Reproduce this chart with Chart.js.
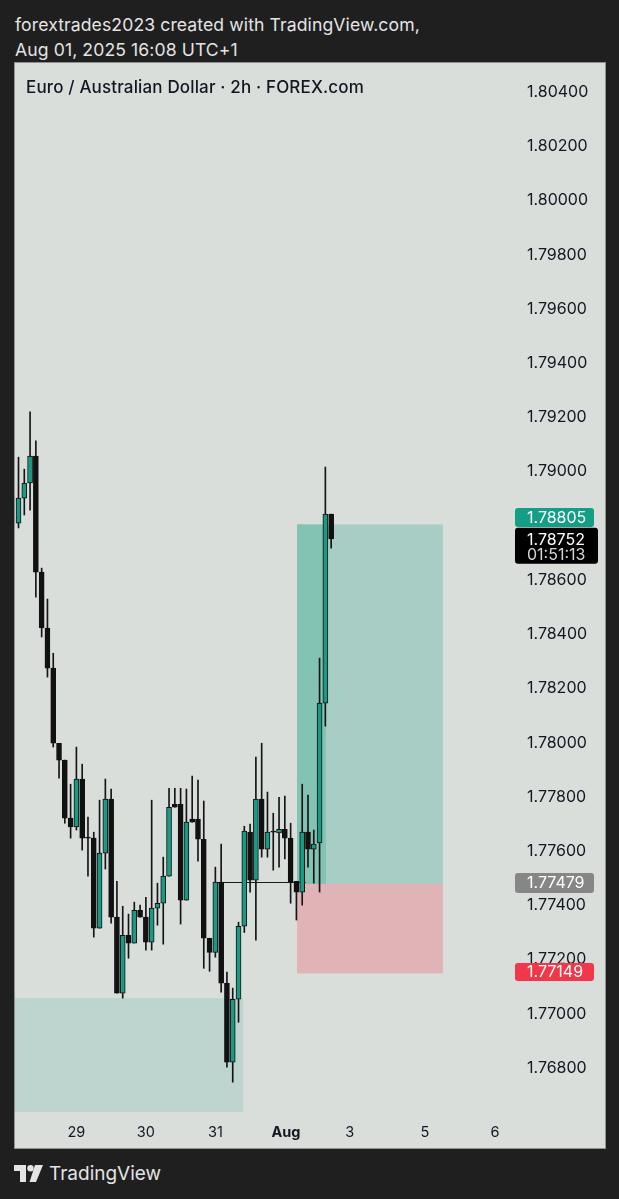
<!DOCTYPE html>
<html>
<head>
<meta charset="utf-8">
<title>EURAUD 2h</title>
<script src="https://cdn.jsdelivr.net/npm/chart.js@4.4.1/dist/chart.umd.min.js"></script>
<style>
  html, body { margin: 0; padding: 0; }
  body { width: 619px; height: 1199px; background: #1f1f1f; overflow: hidden; position: relative;
         font-family: Inter, "Noto Sans", sans-serif; }
  .head { position: absolute; left: 15px; color: #e4e4e4; font-size: 17.6px; line-height: 20px; letter-spacing: 0.1px; }
  #panel { position: absolute; left: 15px; top: 63px; width: 590px; height: 1085px; background: #d9dedb;
           box-shadow: 0 0 0 1px #8c908e; }
  #panel canvas { position: absolute; left: 0; top: 0; }
  #title { position: absolute; left: 11px; top: 14px; font-size: 17px; letter-spacing: 0.15px; font-weight: 500; color: #131722; }
  #brand { position: absolute; left: 14px; top: 1162px; height: 22px; display: flex; align-items: center; gap: 6px;
           color: #e4e4e4; font-size: 19px; }
</style>
</head>
<body>
<div class="head" style="top:15px">forextrades2023 created with TradingView.com,</div>
<div class="head" style="top:40px">Aug 01, 2025 16:08 UTC+1</div>
<div id="panel">
  <canvas id="chart" width="590" height="1085"></canvas>
  <div id="title">Euro / Australian Dollar · 2h · FOREX.com</div>
</div>
<div id="brand">
  <svg width="29" height="17" viewBox="0 0 29 17">
    <path d="M0 0H12V17H6V6H0Z" fill="#e4e4e4"/>
    <circle cx="16.5" cy="3.2" r="3.2" fill="#e4e4e4"/>
    <path d="M21 0H29L22 17H15.5Z" fill="#e4e4e4"/>
  </svg>
  <span>TradingView</span>
</div>
<script>
// 2h candles, oldest first (bar index 0 = Jul 28 ~10:00)
const opens  = [1.78810, 1.78902, 1.78958, 1.79057, 1.78629, 1.78423, 1.78275, 1.77998, 1.77936, 1.77722,
                1.77689, 1.77866, 1.77652, 1.77648, 1.77316, 1.77593, 1.77792, 1.77357, 1.77076, 1.77290,
                1.77261, 1.77382, 1.77357, 1.77264, 1.77390, 1.77408, 1.77508, 1.77773, 1.77773, 1.77419,
                1.77718, 1.77718, 1.77644, 1.77279, 1.77227, 1.77486, 1.77113, 1.76822, 1.77054, 1.77323,
                1.77670, 1.77493, 1.77792, 1.77607, 1.77674, 1.77667, 1.77681, 1.77648, 1.77489, 1.77449,
                1.77670, 1.77607, 1.77630, 1.78146, 1.78843];
const highs  = [1.79053, 1.79009, 1.79220, 1.79113, 1.78644, 1.78530, 1.78330, 1.77998, 1.77936, 1.77847,
                1.77984, 1.77921, 1.77726, 1.77670, 1.77788, 1.77866, 1.77829, 1.77489, 1.77397, 1.77368,
                1.77412, 1.77401, 1.77430, 1.77788, 1.77482, 1.77578, 1.77832, 1.77832, 1.77832, 1.77829,
                1.77877, 1.77862, 1.77785, 1.77279, 1.77541, 1.77626, 1.77154, 1.77095, 1.77338, 1.77692,
                1.77700, 1.77947, 1.77998, 1.77818, 1.77740, 1.77799, 1.77803, 1.77703, 1.77489, 1.77847,
                1.77807, 1.77678, 1.78312, 1.79017, 1.78843];
const lows   = [1.78792, 1.78840, 1.78858, 1.78537, 1.78390, 1.78242, 1.77984, 1.77869, 1.77703, 1.77648,
                1.77678, 1.77604, 1.77508, 1.77283, 1.77316, 1.77534, 1.77334, 1.77076, 1.77058, 1.77205,
                1.77261, 1.77357, 1.77235, 1.77235, 1.77327, 1.77257, 1.77508, 1.77762, 1.77331, 1.77419,
                1.77707, 1.77563, 1.77168, 1.77157, 1.77209, 1.77080, 1.76803, 1.76748, 1.76969, 1.77300,
                1.77449, 1.77272, 1.77578, 1.77578, 1.77530, 1.77541, 1.77571, 1.77408, 1.77346, 1.77401,
                1.77541, 1.77482, 1.77449, 1.78061, 1.78718];
const closes = [1.78902, 1.78958, 1.79057, 1.78629, 1.78423, 1.78275, 1.77998, 1.77936, 1.77722, 1.77689,
                1.77866, 1.77648, 1.77648, 1.77316, 1.77593, 1.77792, 1.77357, 1.77076, 1.77290, 1.77261,
                1.77382, 1.77357, 1.77264, 1.77390, 1.77408, 1.77508, 1.77762, 1.77762, 1.77419, 1.77707,
                1.77707, 1.77644, 1.77279, 1.77227, 1.77486, 1.77113, 1.76822, 1.77054, 1.77323, 1.77674,
                1.77493, 1.77792, 1.77607, 1.77670, 1.77670, 1.77681, 1.77648, 1.77486, 1.77449, 1.77670,
                1.77607, 1.77626, 1.78146, 1.78843, 1.78752];

// time axis (bar index where each day label sits)
const dayTickBars   = [10, 22, 34, 46.2, 57.2, 70.2, 82.3];
const dayTickLabels = ['29', '30', '31', 'Aug', '3', '5', '6'];

// price axis
const priceTicks = [1.804, 1.802, 1.800, 1.798, 1.796, 1.794, 1.792, 1.790, 1.786, 1.784, 1.782,
                    1.780, 1.778, 1.776, 1.774, 1.772, 1.770, 1.768];
const viewBars  = [-0.6045, 84.89];
const viewPrice = [1.76638, 1.80507];

// drawings: demand zone, long position, level line
const demandBars  = [-1, 38.8];
const demandPrice = [1.76600, 1.77058];
const positionBars = [48.1, 53.1, 73.3];   // start, filled up to, end
const entryPrice  = 1.77479;
const stopPrice   = 1.77149;
const targetPrice = 1.78805;
const levelBars   = [34, 49.6];
const levelPrice  = 1.77486;

const lastPrice = 1.78752;
const countdown = '01:51:13';

const UP = '#1a9a83';
const DOWN = '#111111';

const drawings = {
  id: 'drawings',
  beforeDatasetsDraw(chart) {
    const { ctx, chartArea, scales: { x, y } } = chart;
    ctx.save();
    ctx.beginPath();
    ctx.rect(chartArea.left, chartArea.top, chartArea.width, chartArea.height);
    ctx.clip();
    const box = (b0, b1, p0, p1, color) => {
      const l = x.getPixelForValue(b0), r = x.getPixelForValue(b1);
      const t = y.getPixelForValue(p1), btm = y.getPixelForValue(p0);
      ctx.fillStyle = color;
      ctx.fillRect(l, t, r - l, btm - t);
    };
    box(demandBars[0], demandBars[1], demandPrice[0], demandPrice[1], '#bdd5ce');
    box(positionBars[0], positionBars[2], entryPrice, targetPrice, '#a7cdc4');
    box(positionBars[0], positionBars[1], entryPrice, targetPrice, '#83c3b4');
    box(positionBars[0], positionBars[2], stopPrice, entryPrice, '#e0b4b6');
    const ly = Math.round(y.getPixelForValue(levelPrice)) + 0.5;
    ctx.strokeStyle = '#1a1a1a';
    ctx.lineWidth = 1.2;
    ctx.beginPath();
    ctx.moveTo(x.getPixelForValue(levelBars[0]), ly);
    ctx.lineTo(x.getPixelForValue(levelBars[1]), ly);
    ctx.stroke();
    ctx.restore();
  }
};

const priceTags = {
  id: 'priceTags',
  afterDraw(chart) {
    const { ctx, scales: { y } } = chart;
    const left = 500;
    const tag = (cy, h, w, bg) => {
      ctx.fillStyle = bg;
      ctx.beginPath();
      ctx.roundRect(left, cy - h / 2, w, h, 3);
      ctx.fill();
    };
    ctx.save();
    ctx.font = '16px Inter, "Noto Sans", sans-serif';
    ctx.textBaseline = 'middle';
    ctx.textAlign = 'left';

    let cy = y.getPixelForValue(targetPrice) - 7;
    tag(cy, 19, 79, '#139e86');
    ctx.fillStyle = '#ffffff';
    ctx.fillText(targetPrice.toFixed(5), left + 12, cy + 0.5);

    cy = y.getPixelForValue(lastPrice);
    ctx.fillStyle = '#000000';
    ctx.beginPath();
    ctx.roundRect(left, cy - 11, 83, 36, 3);
    ctx.fill();
    ctx.fillStyle = '#ffffff';
    ctx.fillText(lastPrice.toFixed(5), left + 12, cy + 1);
    ctx.fillStyle = '#d6d6d6';
    ctx.fillText(countdown, left + 12, cy + 16);

    cy = y.getPixelForValue(entryPrice) - 1;
    tag(cy, 20, 79, '#868686');
    ctx.fillStyle = '#ffffff';
    ctx.fillText(entryPrice.toFixed(5), left + 12, cy + 0.5);

    cy = y.getPixelForValue(stopPrice) - 1.5;
    tag(cy, 18, 79, '#f0384a');
    ctx.fillStyle = '#ffffff';
    ctx.fillText(stopPrice.toFixed(5), left + 12, cy + 0.5);
    ctx.restore();
  }
};

Chart.defaults.font.family = 'Inter, "Noto Sans", sans-serif';

const bars = opens.map((_, i) => i);

new Chart(document.getElementById('chart'), {
  type: 'bar',
  data: {
    datasets: [
      {
        label: 'body',
        data: bars.map(i => ({ x: i, y: [opens[i], closes[i]] })),
        backgroundColor: bars.map(i => closes[i] >= opens[i] ? UP : DOWN),
        borderColor: '#111111',
        borderWidth: 1,
        borderSkipped: false,
        barThickness: 5,
        minBarLength: 1,
        grouped: false,
        order: 0
      },
      {
        label: 'wick',
        data: bars.map(i => ({ x: i, y: [lows[i], highs[i]] })),
        backgroundColor: '#151515',
        borderWidth: 0,
        barThickness: 1,
        grouped: false,
        order: 1
      }
    ]
  },
  options: {
    responsive: false,
    animation: false,
    layout: { padding: 0 },
    plugins: { legend: { display: false }, tooltip: { enabled: false }, title: { display: false } },
    scales: {
      x: {
        type: 'linear',
        offset: false,
        min: viewBars[0],
        max: viewBars[1],
        grid: { display: false, drawTicks: false },
        border: { display: false },
        afterBuildTicks: s => { s.ticks = dayTickBars.map(v => ({ value: v })); },
        afterFit: s => { s.height = 36; s.paddingLeft = 0; s.paddingRight = 0; },
        ticks: {
          autoSkip: false,
          maxRotation: 0,
          padding: 12,
          color: '#131722',
          font: c => ({ size: 14.5, weight: c.tick && c.tick.label === 'Aug' ? 'bold' : 'normal' }),
          callback: (v, i) => dayTickLabels[i]
        }
      },
      y: {
        position: 'right',
        min: viewPrice[0],
        max: viewPrice[1],
        grid: { display: false, drawTicks: false },
        border: { display: false },
        afterBuildTicks: s => { s.ticks = priceTicks.map(v => ({ value: v })); },
        afterFit: s => { s.width = 95; s.paddingTop = 0; s.paddingBottom = 0; },
        ticks: {
          padding: 17,
          color: '#131722',
          font: { size: 16 },
          callback: v => v.toFixed(5)
        }
      }
    }
  },
  plugins: [drawings, priceTags]
});
</script>
</body>
</html>
